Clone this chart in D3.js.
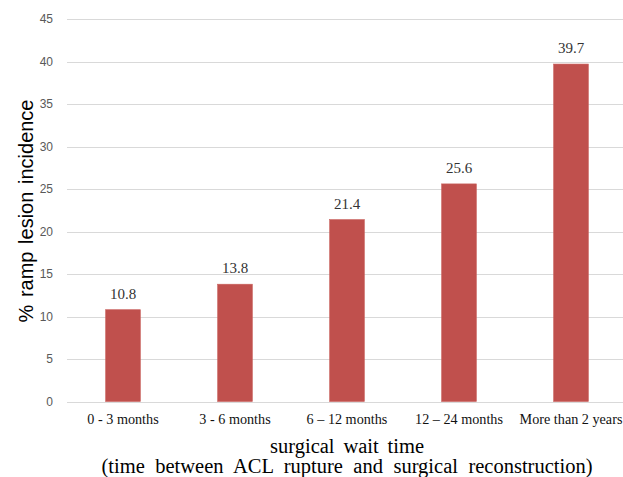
<!DOCTYPE html>
<html><head><meta charset="utf-8">
<script src="https://cdn.jsdelivr.net/npm/d3@7"></script>
<style>body{margin:0;background:#fff}svg{display:block}</style>
</head><body>
<svg id="chart" width="623" height="477"></svg>
<script>
const categories = ["0 - 3 months", "3 - 6 months", "6 \u2013 12 months", "12 \u2013 24 months", "More than 2 years"];
const values = [10.8, 13.8, 21.4, 25.6, 39.7];
const yTicks = [0, 5, 10, 15, 20, 25, 30, 35, 40, 45];

const svg = d3.select("#chart");
const x = d3.scaleBand().domain(categories).range([67, 627]).paddingInner(0.69).paddingOuter(0.345);
const y = d3.scaleLinear().domain([0, 45]).range([401.5, 19]);
const cx = (67 + 627) / 2;

// fit text to a target width by widening the gaps between words
function fitWords(sel, target) {
  const node = sel.node();
  const len = node.getComputedTextLength();
  const gaps = (node.textContent.match(/ /g) || []).length;
  if (gaps > 0) sel.attr("word-spacing", Math.max(0, (target - len) / gaps));
}

// gridlines
svg.append("g").selectAll("line").data(yTicks).join("line")
  .attr("x1", 67).attr("x2", 623)
  .attr("y1", d => Math.round(y(d)) + 0.5).attr("y2", d => Math.round(y(d)) + 0.5)
  .attr("stroke", "#d9d9d9").attr("stroke-width", 1);

// y tick labels
svg.append("g").selectAll("text").data(yTicks).join("text")
  .attr("x", 53).attr("y", d => y(d) + 4)
  .attr("text-anchor", "end")
  .attr("font-family", "Liberation Sans, Arial, sans-serif")
  .attr("font-size", 12).attr("fill", "#595959")
  .text(d => d);

// bars
svg.append("g").selectAll("rect").data(values).join("rect")
  .attr("x", (d, i) => x(categories[i]))
  .attr("width", x.bandwidth())
  .attr("y", d => y(d))
  .attr("height", d => y(0) - y(d))
  .attr("fill", "#C0504D")
  .attr("stroke", "#c9605d").attr("stroke-width", 0.6);

// value labels
svg.append("g").selectAll("text").data(values).join("text")
  .attr("x", (d, i) => x(categories[i]) + x.bandwidth() / 2)
  .attr("y", d => y(d) - 11)
  .attr("text-anchor", "middle")
  .attr("font-family", "Liberation Serif, Times New Roman, serif")
  .attr("font-size", 15).attr("fill", "#333")
  .text(d => d.toFixed(1));

// x tick labels
svg.append("g").selectAll("text").data(categories).join("text")
  .attr("x", d => x(d) + x.bandwidth() / 2)
  .attr("y", 424)
  .attr("text-anchor", "middle")
  .attr("font-family", "Liberation Serif, Times New Roman, serif")
  .attr("font-size", 14.2).attr("fill", "#111")
  .text(d => d);

// x title
const t1 = svg.append("text").attr("x", cx).attr("y", 453)
  .attr("text-anchor", "middle")
  .attr("font-family", "Liberation Serif, Times New Roman, serif")
  .attr("font-size", 20.5).attr("fill", "#000")
  .text("surgical wait time");
fitWords(t1, 154);
const t2 = svg.append("text").attr("x", cx).attr("y", 473)
  .attr("text-anchor", "middle")
  .attr("font-family", "Liberation Serif, Times New Roman, serif")
  .attr("font-size", 20.5).attr("fill", "#000")
  .text("(time between ACL rupture and surgical reconstruction)");
fitWords(t2, 491);

// y title
const t3 = svg.append("text")
  .attr("transform", "translate(33,211) rotate(-90)")
  .attr("text-anchor", "middle")
  .attr("font-family", "Liberation Sans, Arial, sans-serif")
  .attr("font-size", 20).attr("fill", "#000")
  .text("% ramp lesion incidence");
fitWords(t3, 223);
</script>
</body></html>
